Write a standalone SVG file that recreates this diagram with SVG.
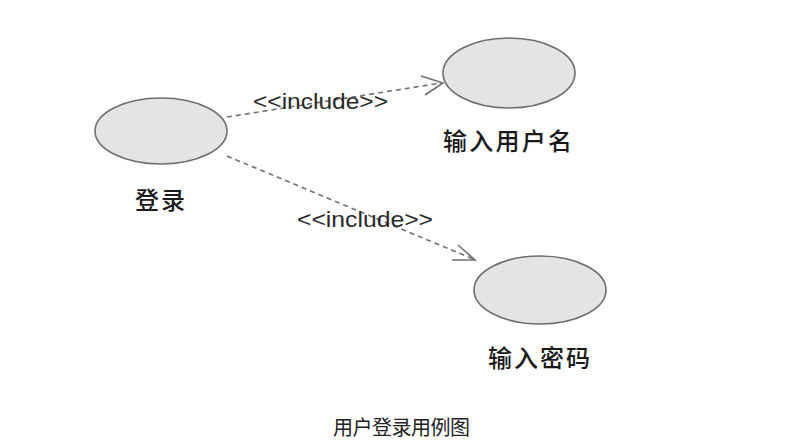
<svg xmlns="http://www.w3.org/2000/svg" width="803" height="447" viewBox="0 0 803 447">
<defs>
<style>
.uc{fill:#e4e4e4;stroke:#6e6e6e;stroke-width:1.6}
.dep{fill:none;stroke:#707070;stroke-width:1.6;stroke-dasharray:5,4}
.head{fill:none;stroke:#707070;stroke-width:1.6}
.lbl{font-family:"Noto Sans CJK SC","Liberation Sans",sans-serif;font-size:24px;font-weight:500;fill:#1a1a1a}
.st{font-family:"Liberation Sans",sans-serif;font-size:22px;fill:#2a2a2a}
.cap{font-family:"Liberation Serif","Noto Sans CJK SC",serif;font-size:20px;fill:#222}
</style>
</defs>
<rect width="803" height="447" fill="#fff"/>
<g id="connectors">
<g id="c1">
<line class="dep" x1="227" y1="117" x2="441" y2="83"/>
<polyline class="head" points="421,76 443,83 425,95"/>
<text class="st" x="253" y="109" textLength="135" lengthAdjust="spacingAndGlyphs">&lt;&lt;include&gt;&gt;</text>
</g>
<g id="c2">
<line class="dep" x1="227" y1="156" x2="473" y2="259"/>
<polyline class="head" points="458,245 475,260 452,260"/>
<text class="st" x="297" y="227" textLength="136" lengthAdjust="spacingAndGlyphs">&lt;&lt;include&gt;&gt;</text>
</g>
</g>
<g id="login">
<ellipse class="uc" cx="161" cy="131" rx="66" ry="33"/>
<text class="lbl" x="135" y="209" textLength="50" lengthAdjust="spacing">登录</text>
</g>
<g id="username">
<ellipse class="uc" cx="509" cy="73" rx="66" ry="35"/>
<text class="lbl" x="443" y="150" textLength="129" lengthAdjust="spacing">输入用户名</text>
</g>
<g id="password">
<ellipse class="uc" cx="540" cy="290" rx="66" ry="34"/>
<text class="lbl" x="488" y="367" textLength="102" lengthAdjust="spacing">输入密码</text>
</g>
<text class="cap" x="333" y="435" textLength="137" lengthAdjust="spacing">用户登录用例图</text>
</svg>
